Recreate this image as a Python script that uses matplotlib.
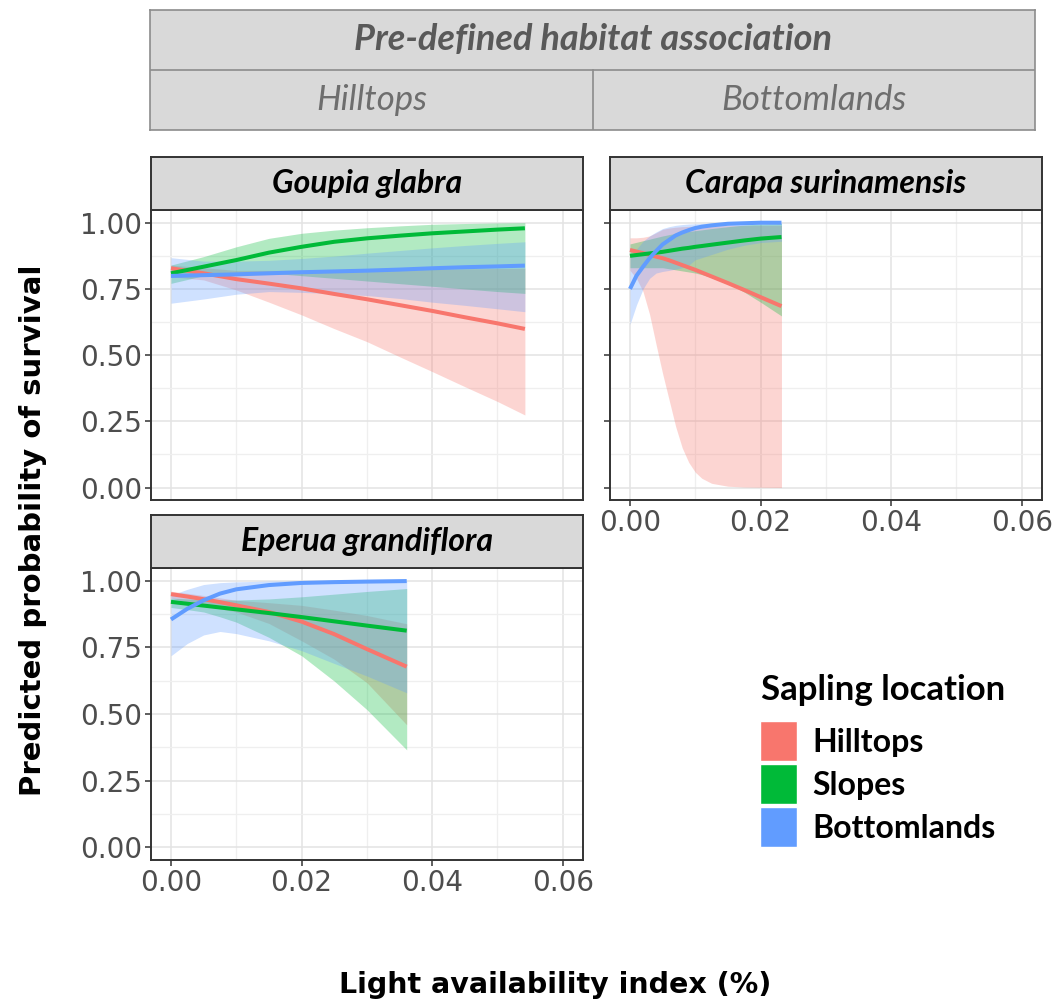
import matplotlib.pyplot as plt
from matplotlib.patches import Patch
from matplotlib.ticker import MultipleLocator

# ---------------------------------------------------------------
# Predicted sapling survival vs light, per species and location
# ---------------------------------------------------------------
locations = ["Hilltops", "Slopes", "Bottomlands"]
loc_colors = ["#F8766D", "#00BA38", "#619CFF"]

# Goupia glabra (pre-defined habitat: hilltops)
goupia_x = [0, 0.005, 0.01, 0.015, 0.02, 0.025, 0.03, 0.035, 0.04, 0.045, 0.05, 0.0542]
goupia_hill_fit = [0.828, 0.809, 0.787, 0.770, 0.752, 0.731, 0.711, 0.689, 0.667, 0.643, 0.620, 0.599]
goupia_hill_lo = [0.796, 0.784, 0.746, 0.700, 0.652, 0.600, 0.551, 0.494, 0.438, 0.381, 0.325, 0.274]
goupia_hill_hi = [0.840, 0.830, 0.820, 0.820, 0.820, 0.820, 0.820, 0.822, 0.825, 0.826, 0.827, 0.828]
goupia_slope_fit = [0.809, 0.834, 0.859, 0.887, 0.909, 0.928, 0.941, 0.951, 0.960, 0.967, 0.974, 0.979]
goupia_slope_lo = [0.771, 0.800, 0.812, 0.810, 0.800, 0.790, 0.780, 0.770, 0.760, 0.750, 0.740, 0.733]
goupia_slope_hi = [0.840, 0.872, 0.909, 0.941, 0.960, 0.972, 0.981, 0.988, 0.994, 0.997, 0.999, 1.000]
goupia_bottom_fit = [0.799, 0.802, 0.805, 0.809, 0.813, 0.816, 0.819, 0.823, 0.828, 0.832, 0.835, 0.838]
goupia_bottom_lo = [0.696, 0.712, 0.730, 0.740, 0.737, 0.732, 0.725, 0.714, 0.700, 0.688, 0.675, 0.664]
goupia_bottom_hi = [0.868, 0.855, 0.855, 0.858, 0.865, 0.874, 0.885, 0.895, 0.905, 0.914, 0.922, 0.928]

# Carapa surinamensis (pre-defined habitat: bottomlands)
carapa_x = [0, 0.001, 0.002, 0.003, 0.004, 0.005, 0.006, 0.007, 0.008, 0.009, 0.01,
            0.011, 0.0125, 0.015, 0.0175, 0.02, 0.0232]
carapa_hill_fit = [0.897, 0.891, 0.885, 0.879, 0.872, 0.866, 0.858, 0.849, 0.840, 0.831, 0.822,
                   0.812, 0.797, 0.772, 0.746, 0.719, 0.685]
carapa_hill_lo = [0.820, 0.790, 0.740, 0.654, 0.540, 0.430, 0.330, 0.230, 0.150, 0.095, 0.058,
                  0.035, 0.016, 0.005, 0.002, 0.001, 0.000]
carapa_hill_hi = [0.943, 0.943, 0.945, 0.950, 0.962, 0.975, 0.980, 0.983, 0.985, 0.986, 0.987,
                  0.987, 0.988, 0.989, 0.990, 0.990, 0.990]
carapa_slope_fit = [0.875, 0.878, 0.881, 0.884, 0.887, 0.890, 0.894, 0.898, 0.902, 0.905, 0.909,
                    0.912, 0.917, 0.925, 0.933, 0.940, 0.946]
carapa_slope_lo = [0.830, 0.830, 0.830, 0.830, 0.830, 0.830, 0.826, 0.822, 0.818, 0.814, 0.810,
                   0.804, 0.793, 0.772, 0.738, 0.700, 0.648]
carapa_slope_hi = [0.920, 0.926, 0.932, 0.938, 0.944, 0.950, 0.955, 0.960, 0.964, 0.967, 0.970,
                   0.973, 0.978, 0.985, 0.991, 0.995, 0.997]
carapa_bottom_fit = [0.750, 0.800, 0.834, 0.866, 0.893, 0.918, 0.935, 0.952, 0.963, 0.972, 0.980,
                     0.985, 0.990, 0.996, 0.998, 1.000, 1.000]
carapa_bottom_lo = [0.616, 0.690, 0.750, 0.790, 0.810, 0.816, 0.820, 0.825, 0.830, 0.840, 0.860,
                    0.868, 0.880, 0.900, 0.915, 0.925, 0.930]
carapa_bottom_hi = [0.870, 0.900, 0.930, 0.950, 0.965, 0.978, 0.985, 0.990, 0.993, 0.995, 0.996,
                    0.997, 0.998, 0.999, 1.000, 1.000, 1.000]

# Eperua grandiflora (pre-defined habitat: hilltops)
eperua_x = [0, 0.0025, 0.005, 0.0075, 0.01, 0.015, 0.02, 0.025, 0.03, 0.0361]
eperua_hill_fit = [0.950, 0.941, 0.931, 0.920, 0.908, 0.883, 0.847, 0.800, 0.744, 0.678]
eperua_hill_lo = [0.936, 0.920, 0.905, 0.895, 0.883, 0.840, 0.775, 0.706, 0.618, 0.460]
eperua_hill_hi = [0.961, 0.953, 0.945, 0.936, 0.927, 0.918, 0.908, 0.890, 0.870, 0.839]
eperua_slope_fit = [0.921, 0.914, 0.907, 0.900, 0.893, 0.879, 0.864, 0.848, 0.832, 0.813]
eperua_slope_lo = [0.900, 0.892, 0.883, 0.865, 0.845, 0.788, 0.719, 0.624, 0.517, 0.366]
eperua_slope_hi = [0.935, 0.932, 0.930, 0.929, 0.928, 0.932, 0.940, 0.950, 0.960, 0.971]
eperua_bottom_fit = [0.855, 0.895, 0.927, 0.952, 0.968, 0.984, 0.992, 0.995, 0.997, 0.999]
eperua_bottom_lo = [0.719, 0.765, 0.797, 0.810, 0.802, 0.775, 0.738, 0.690, 0.643, 0.580]
eperua_bottom_hi = [0.946, 0.968, 0.986, 0.993, 0.996, 0.999, 1.000, 1.000, 1.000, 1.000]

x_ticks = [0.00, 0.02, 0.04, 0.06]
y_ticks = [0.00, 0.25, 0.50, 0.75, 1.00]

W, H = 1053, 1005
STRIP_FONT = ["Lato", "DejaVu Sans"]
EDGE = "#333333"


def box(x0, y0, x1, y1):
    """Pixel box (top-left origin) -> figure fraction rect."""
    return [x0 / W, 1 - y1 / H, (x1 - x0) / W, (y1 - y0) / H]


def draw_panel(ax, x, series, show_x, show_ylab):
    # ribbons first, lines on top
    for (fit, lo, hi), col in zip(series, loc_colors):
        ax.fill_between(x, lo, hi, color=col, alpha=0.3, linewidth=0)
    for (fit, lo, hi), col in zip(series, loc_colors):
        ax.plot(x, fit, color=col, linewidth=2.9, solid_capstyle="butt")

    ax.set_xlim(-0.00306, 0.0631)
    ax.set_ylim(-0.047, 1.048)
    ax.set_xticks(x_ticks)
    ax.set_yticks(y_ticks)
    ax.xaxis.set_minor_locator(MultipleLocator(0.01))
    ax.yaxis.set_minor_locator(MultipleLocator(0.125))
    ax.grid(True, which="major", color="#E3E3E3", linewidth=1.1)
    ax.grid(True, which="minor", color="#EFEFEF", linewidth=0.9)
    ax.set_axisbelow(True)
    for s in ax.spines.values():
        s.set_color(EDGE)
        s.set_linewidth(1.4)
    ax.tick_params(which="minor", length=0)
    ax.tick_params(which="major", color=EDGE, length=4.5, width=1.1,
                   labelsize=20, labelcolor="#4D4D4D", pad=2)
    ax.set_xticklabels([f"{v:.2f}" for v in x_ticks])
    ax.set_yticklabels([f"{v:.2f}" for v in y_ticks])
    if not show_x:
        ax.tick_params(axis="x", length=0, labelbottom=False)
    if not show_ylab:
        ax.tick_params(axis="y", labelleft=False)


def draw_strip(rect, label):
    sax = fig.add_axes(rect)
    sax.set_facecolor("#D9D9D9")
    sax.set_xticks([])
    sax.set_yticks([])
    for s in sax.spines.values():
        s.set_color(EDGE)
        s.set_linewidth(1.4)
    sax.text(0.5, 0.5, label, ha="center", va="center", fontsize=23,
             fontweight="bold", fontstyle="italic", family=STRIP_FONT, color="black")


fig = plt.figure(figsize=(W / 100, H / 100), dpi=100)

# --- habitat association header ---
hax = fig.add_axes(box(150, 10, 1035, 130))
hax.set_facecolor("#D9D9D9")
hax.set_xlim(0, 1)
hax.set_ylim(0, 1)
hax.set_xticks([])
hax.set_yticks([])
for s in hax.spines.values():
    s.set_color("#8C8C8C")
    s.set_linewidth(1.2)
split = (593 - 150) / (1035 - 150)
hax.axhline(0.5, color="#8C8C8C", linewidth=1.2)
hax.plot([split, split], [0, 0.5], color="#8C8C8C", linewidth=1.2)
hax.text(0.5, 0.75, "Pre-defined habitat association", ha="center", va="center",
         fontsize=26, fontweight="bold", fontstyle="italic", family=STRIP_FONT, color="#595959")
hax.text(split / 2, 0.25, "Hilltops", ha="center", va="center",
         fontsize=25, fontstyle="italic", family=STRIP_FONT, color="#6E6E6E")
hax.text((1 + split) / 2, 0.25, "Bottomlands", ha="center", va="center",
         fontsize=25, fontstyle="italic", family=STRIP_FONT, color="#6E6E6E")

# --- panels ---
ax1 = fig.add_axes(box(151, 210, 583, 500))
draw_panel(ax1, goupia_x,
           [(goupia_hill_fit, goupia_hill_lo, goupia_hill_hi),
            (goupia_slope_fit, goupia_slope_lo, goupia_slope_hi),
            (goupia_bottom_fit, goupia_bottom_lo, goupia_bottom_hi)],
           show_x=False, show_ylab=True)
draw_strip(box(151, 157, 583, 210), "Goupia glabra")

ax2 = fig.add_axes(box(610, 210, 1042, 500))
draw_panel(ax2, carapa_x,
           [(carapa_hill_fit, carapa_hill_lo, carapa_hill_hi),
            (carapa_slope_fit, carapa_slope_lo, carapa_slope_hi),
            (carapa_bottom_fit, carapa_bottom_lo, carapa_bottom_hi)],
           show_x=True, show_ylab=False)
draw_strip(box(610, 157, 1042, 210), "Carapa surinamensis")

ax3 = fig.add_axes(box(151, 568, 583, 860))
draw_panel(ax3, eperua_x,
           [(eperua_hill_fit, eperua_hill_lo, eperua_hill_hi),
            (eperua_slope_fit, eperua_slope_lo, eperua_slope_hi),
            (eperua_bottom_fit, eperua_bottom_lo, eperua_bottom_hi)],
           show_x=True, show_ylab=True)
draw_strip(box(151, 515, 583, 568), "Eperua grandiflora")

# --- shared axis titles ---
fig.text(33 / W, 1 - 530 / H, "Predicted probability of survival", rotation=90,
         ha="center", va="center", fontsize=21, fontweight="bold", color="black")
fig.text(555 / W, 1 - 985 / H, "Light availability index (%)",
         ha="center", va="center", fontsize=20.5, fontweight="bold", color="black")

# --- legend (title placed on its own for a wider gap above the keys) ---
fig.text(761 / W, 1 - 690 / H, "Sapling location", ha="left", va="center",
         fontsize=25, fontweight="bold", family=STRIP_FONT, color="black")
handles = [Patch(facecolor=c, edgecolor="white", linewidth=1) for c in loc_colors]
leg = fig.legend(handles, locations,
                 loc="upper left", bbox_to_anchor=(760 / W, 1 - 721 / H),
                 frameon=False, handlelength=1.15, handleheight=1.55,
                 labelspacing=0.1, handletextpad=0.5, borderpad=0.0,
                 borderaxespad=0.0,
                 prop={"family": STRIP_FONT, "weight": "bold", "size": 23})

fig.savefig("out.png", dpi=100)
